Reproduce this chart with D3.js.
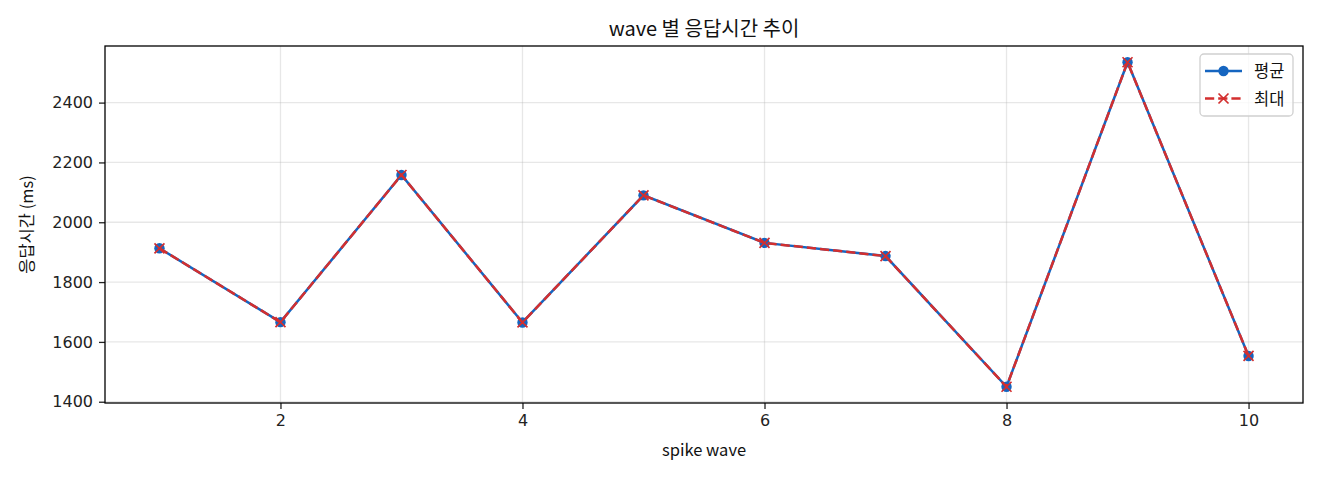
<!DOCTYPE html>
<html>
<head>
<meta charset="utf-8">
<script src="https://cdn.jsdelivr.net/npm/d3@7"></script>
<style>
  body { margin: 0; background: #fff; }
  svg { font-family: "Noto Sans CJK KR", "Noto Sans", sans-serif; }
</style>
</head>
<body>
<svg id="chart" width="1320" height="480"></svg>
<script>
const waves = [1, 2, 3, 4, 5, 6, 7, 8, 9, 10];
const avgMs = [1913, 1666, 2158, 1665, 2090, 1931, 1887, 1450, 2535, 1553];
const maxMs = [1913, 1666, 2158, 1665, 2090, 1931, 1887, 1450, 2535, 1553];
const xTicks = [2, 4, 6, 8, 10];
const yTicks = [1400, 1600, 1800, 2000, 2200, 2400];

const width = 1320;
const height = 480;
const margin = { top: 46, right: 17, bottom: 77, left: 105 };

const svg = d3.select('#chart');

const x = d3.scaleLinear()
  .domain([0.55, 10.45])
  .range([margin.left, width - margin.right]);

const lo = d3.min(avgMs.concat(maxMs)), hi = d3.max(avgMs.concat(maxMs));
const pad = (hi - lo) * 0.05;
const y = d3.scaleLinear()
  .domain([lo - pad, hi + pad])
  .range([height - margin.bottom, margin.top]);

// grid
svg.append('g')
  .selectAll('line')
  .data(xTicks)
  .join('line')
  .attr('x1', d => x(d)).attr('x2', d => x(d))
  .attr('y1', margin.top).attr('y2', height - margin.bottom)
  .attr('stroke', '#b0b0b0').attr('stroke-opacity', 0.3).attr('stroke-width', 1.3);

svg.append('g')
  .selectAll('line')
  .data(yTicks)
  .join('line')
  .attr('x1', margin.left).attr('x2', width - margin.right)
  .attr('y1', d => y(d)).attr('y2', d => y(d))
  .attr('stroke', '#b0b0b0').attr('stroke-opacity', 0.3).attr('stroke-width', 1.3);

// axes
const xAxis = svg.append('g')
  .attr('transform', `translate(0, ${height - margin.bottom})`)
  .call(d3.axisBottom(x).tickValues(xTicks).tickSize(6).tickPadding(6));

const yAxis = svg.append('g')
  .attr('transform', `translate(${margin.left}, 0)`)
  .call(d3.axisLeft(y).tickValues(yTicks).tickSize(6).tickPadding(6).tickFormat(d3.format('d')));

[xAxis, yAxis].forEach(g => {
  g.select('.domain').remove();
  g.selectAll('text').attr('font-size', '16px').attr('fill', '#222')
    .attr('font-family', '"DejaVu Sans", sans-serif');
  g.selectAll('line').attr('stroke', '#222').attr('stroke-width', 1.3);
});

// frame
svg.append('rect')
  .attr('x', margin.left).attr('y', margin.top)
  .attr('width', width - margin.left - margin.right)
  .attr('height', height - margin.top - margin.bottom)
  .attr('fill', 'none').attr('stroke', '#000').attr('stroke-width', 1.3);

const blue = '#1565c0';
const red = '#d32f2f';
const dash = '9.2,4';

const line = d3.line()
  .x((d, i) => x(waves[i]))
  .y(d => y(d));

// average series
svg.append('path')
  .datum(avgMs)
  .attr('d', line)
  .attr('fill', 'none').attr('stroke', blue).attr('stroke-width', 2.5);

svg.append('g')
  .selectAll('circle')
  .data(avgMs)
  .join('circle')
  .attr('cx', (d, i) => x(waves[i]))
  .attr('cy', d => y(d))
  .attr('r', 5.2)
  .attr('fill', blue);

// max series
svg.append('path')
  .datum(maxMs)
  .attr('d', line)
  .attr('fill', 'none').attr('stroke', red).attr('stroke-width', 2.5)
  .attr('stroke-dasharray', dash);

const cross = 5;
svg.append('g')
  .selectAll('path')
  .data(maxMs)
  .join('path')
  .attr('d', (d, i) => {
    const cx = x(waves[i]), cy = y(d);
    return `M${cx - cross},${cy - cross}L${cx + cross},${cy + cross}M${cx - cross},${cy + cross}L${cx + cross},${cy - cross}`;
  })
  .attr('stroke', red).attr('stroke-width', 1.7).attr('fill', 'none');

// title and labels
svg.append('text')
  .attr('x', (margin.left + width - margin.right) / 2)
  .attr('y', 36)
  .attr('text-anchor', 'middle')
  .attr('font-size', '20px')
  .attr('fill', '#111')
  .text('wave 별 응답시간 추이');

svg.append('text')
  .attr('x', (margin.left + width - margin.right) / 2)
  .attr('y', 456)
  .attr('text-anchor', 'middle')
  .attr('font-size', '16.5px')
  .attr('fill', '#111')
  .text('spike wave');

svg.append('text')
  .attr('x', -(margin.top + height - margin.bottom) / 2)
  .attr('y', 33)
  .attr('text-anchor', 'middle')
  .attr('transform', 'rotate(-90)')
  .attr('font-size', '16.5px')
  .attr('fill', '#111')
  .text('응답시간 (ms)');

// legend
const legend = svg.append('g').attr('transform', 'translate(1200, 54)');
legend.append('rect')
  .attr('width', 93).attr('height', 62).attr('rx', 4)
  .attr('fill', '#fff').attr('fill-opacity', 0.8)
  .attr('stroke', '#d0d0d0').attr('stroke-width', 1.3);

const entries = [
  { label: '평균', color: blue, dash: null, marker: 'circle' },
  { label: '최대', color: red, dash: dash, marker: 'x' }
];

entries.forEach((e, i) => {
  const cy = 17 + i * 27.5;
  const row = legend.append('g');
  row.append('line')
    .attr('x1', 5).attr('x2', 42).attr('y1', cy).attr('y2', cy)
    .attr('stroke', e.color).attr('stroke-width', 2.5)
    .attr('stroke-dasharray', e.dash);
  if (e.marker === 'circle') {
    row.append('circle').attr('cx', 23.5).attr('cy', cy).attr('r', 5.2).attr('fill', e.color);
  } else {
    row.append('path')
      .attr('d', `M${23.5 - cross},${cy - cross}L${23.5 + cross},${cy + cross}M${23.5 - cross},${cy + cross}L${23.5 + cross},${cy - cross}`)
      .attr('stroke', e.color).attr('stroke-width', 1.7);
  }
  row.append('text')
    .attr('x', 54).attr('y', cy + 6)
    .attr('font-size', '16.5px').attr('fill', '#111')
    .text(e.label);
});
</script>
</body>
</html>
